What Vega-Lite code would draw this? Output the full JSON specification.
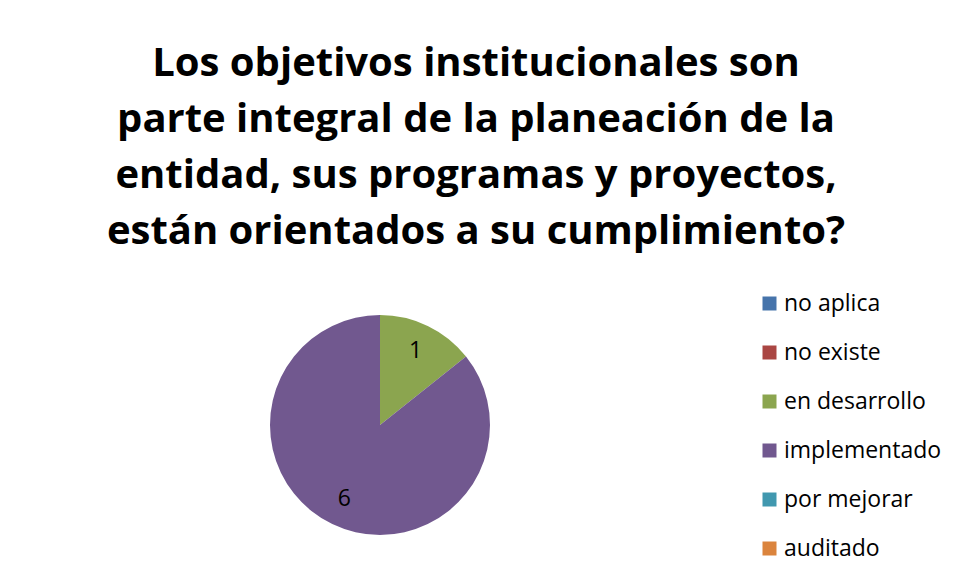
{
  "$schema": "https://vega.github.io/schema/vega-lite/v6.json",
  "autosize": {"type": "none"},
  "width": 760,
  "height": 220,
  "padding": {"left": 0, "top": 315, "right": 201, "bottom": 45},
  "background": "white",
  "title": {
    "text": ["Los objetivos institucionales son", "parte integral de la planeación de la", "entidad, sus programas y proyectos,", "están orientados a su cumplimiento?"],
    "font": "Open Sans",
    "fontSize": 40,
    "fontWeight": "bold",
    "color": "#000000",
    "lineHeight": 56,
    "anchor": "middle",
    "frame": "group",
    "dx": 96,
    "offset": 40
  },
  "data": {
    "values": [
      {"categoria": "no aplica", "valor": 0, "orden": 1},
      {"categoria": "no existe", "valor": 0, "orden": 2},
      {"categoria": "en desarrollo", "valor": 1, "orden": 3},
      {"categoria": "implementado", "valor": 6, "orden": 4},
      {"categoria": "por mejorar", "valor": 0, "orden": 5},
      {"categoria": "auditado", "valor": 0, "orden": 6}
    ]
  },
  "encoding": {
    "theta": {"field": "valor", "type": "quantitative", "stack": true},
    "order": {"field": "orden", "type": "quantitative"},
    "color": {
      "field": "categoria",
      "type": "nominal",
      "sort": ["no aplica", "no existe", "en desarrollo", "implementado", "por mejorar", "auditado"],
      "scale": {
        "domain": ["no aplica", "no existe", "en desarrollo", "implementado", "por mejorar", "auditado"],
        "range": ["#4674AB", "#AA4643", "#8BA54F", "#71588F", "#4198AF", "#DB843D"]
      },
      "legend": {
        "title": null,
        "orient": "none",
        "legendX": 758,
        "legendY": -23,
        "symbolType": "square",
        "symbolSize": 196,
        "symbolStrokeWidth": 0,
        "labelFont": "Open Sans",
        "labelFontSize": 23,
        "labelColor": "#000000",
        "labelOffset": 3,
        "rowPadding": 25
      }
    }
  },
  "layer": [
    {"mark": {"type": "arc", "outerRadius": 110}},
    {
      "transform": [{"filter": "datum.valor > 0"}],
      "mark": {"type": "text", "radius": 82, "font": "Open Sans", "fontSize": 23, "color": "#000000"},
      "encoding": {
        "text": {"field": "valor", "type": "quantitative"},
        "color": {"value": "#000000"}
      }
    }
  ],
  "config": {"view": {"stroke": null}}
}
